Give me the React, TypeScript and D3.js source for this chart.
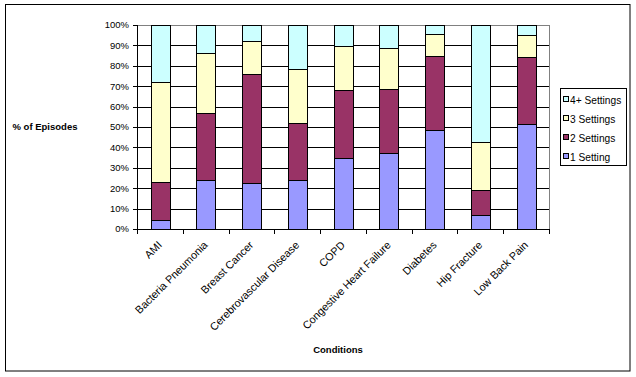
import React from "react";
import * as d3 from "d3";

const categories = [
  "AMI",
  "Bacteria Pneumonia",
  "Breast Cancer",
  "Cerebrovascular Disease",
  "COPD",
  "Congestive Heart Failure",
  "Diabetes",
  "Hip Fracture",
  "Low Back Pain",
];

const seriesNames = ["1 Setting", "2 Settings", "3 Settings", "4+ Settings"];
const seriesColors = ["#9999FF", "#993366", "#FFFFCC", "#CCFFFF"];

const oneSetting = [4.3, 23.9, 22.4, 23.9, 34.7, 37.3, 48.4, 6.7, 51.6];
const twoSettings = [18.6, 32.9, 53.5, 28.0, 33.4, 31.4, 36.4, 12.4, 32.7];
const threeSettings = [49.1, 29.5, 16.2, 26.7, 21.6, 20.2, 10.9, 23.6, 10.8];
const fourPlusSettings = [28.0, 13.7, 7.9, 21.4, 10.3, 11.1, 4.3, 57.3, 4.9];

const yTicks = [0, 10, 20, 30, 40, 50, 60, 70, 80, 90, 100];

const W = 636;
const H = 377;
const plot = { left: 137, right: 549, top: 25, bottom: 229 };
const FONT = "'Liberation Sans', Arial, sans-serif";
const FS = 9.5;

export default function App() {
  const seriesValues = [oneSetting, twoSettings, threeSettings, fourPlusSettings];
  const rows = categories.map((c, i) => {
    const r: any = { cat: c };
    seriesNames.forEach((s, k) => (r[s] = seriesValues[k][i]));
    return r;
  });
  const stacked = d3.stack<any>().keys(seriesNames).offset(d3.stackOffsetExpand)(rows);

  const x = d3.scaleBand<string>().domain(categories).range([plot.left, plot.right]).padding(0);
  const y = d3.scaleLinear().domain([0, 1]).range([plot.bottom, plot.top]);
  const barW = x.step() * 0.41;

  const boundaries = categories.map((c) => x(c)!).concat([plot.right]);

  return (
    <svg
      width={W}
      height={H}
      style={{ position: "fixed", left: 0, top: 0, background: "#fff" }}
      fontFamily={FONT}
    >
      <rect x={0} y={0} width={W} height={H} fill="#fff" />
      <rect x={5.5} y={4.5} width={624.5} height={366.5} fill="none" stroke="#000" strokeWidth={1} />

      {/* gridlines */}
      {yTicks.map((t) => (
        <line
          key={"g" + t}
          x1={plot.left}
          x2={plot.right}
          y1={Math.round(y(t / 100)) + 0.5}
          y2={Math.round(y(t / 100)) + 0.5}
          stroke={t === 100 ? "#808080" : "#000"}
          strokeWidth={1}
        />
      ))}
      <line
        x1={plot.right + 0.5}
        x2={plot.right + 0.5}
        y1={plot.top}
        y2={plot.bottom}
        stroke="#808080"
      />

      {/* bars */}
      {stacked.map((layer, k) =>
        layer.map((d, i) => {
          const cx = x(categories[i])! + x.step() / 2;
          const y0 = y(d[0]);
          const y1 = y(d[1]);
          return (
            <rect
              key={k + "-" + i}
              x={Math.round(cx - barW / 2) + 0.5}
              y={Math.round(y1) + 0.5}
              width={Math.round(barW)}
              height={Math.round(y0) - Math.round(y1)}
              fill={seriesColors[k]}
              stroke="#000"
              strokeWidth={1}
            />
          );
        })
      )}

      {/* axes */}
      <line x1={plot.left + 0.5} x2={plot.left + 0.5} y1={plot.top} y2={plot.bottom + 0.5} stroke="#000" />
      <line x1={plot.left} x2={plot.right + 1} y1={plot.bottom + 0.5} y2={plot.bottom + 0.5} stroke="#000" />
      {yTicks.map((t) => (
        <g key={"yt" + t}>
          <line
            x1={plot.left - 4}
            x2={plot.left}
            y1={Math.round(y(t / 100)) + 0.5}
            y2={Math.round(y(t / 100)) + 0.5}
            stroke="#000"
          />
          <text
            x={129}
            y={y(t / 100)}
            dy="0.35em"
            textAnchor="end"
            fontSize={FS}
            fill="#000"
          >
            {t + "%"}
          </text>
        </g>
      ))}
      {boundaries.map((b, i) => (
        <line
          key={"xt" + i}
          x1={Math.round(b) + 0.5}
          x2={Math.round(b) + 0.5}
          y1={plot.bottom}
          y2={plot.bottom + 5}
          stroke="#000"
        />
      ))}
      {categories.map((c) => {
        const cx = x(c)! + x.step() / 2;
        return (
          <text
            key={"xl" + c}
            transform={`translate(${cx},${plot.bottom + 14}) rotate(-45)`}
            textAnchor="end"
            dy="0.35em"
            fontSize={10.8}
            fill="#000"
          >
            {c}
          </text>
        );
      })}

      {/* axis titles */}
      <text x={45} y={127} dy="0.35em" textAnchor="middle" fontSize={FS} fontWeight="bold" fill="#000">
        % of Episodes
      </text>
      <text x={338} y={350} dy="0.35em" textAnchor="middle" fontSize={FS} fontWeight="bold" fill="#000">
        Conditions
      </text>

      {/* legend */}
      <rect x={560.5} y={88.5} width={66} height={77} fill="#fff" stroke="#000" />
      {[3, 2, 1, 0].map((k, j) => {
        const cy = 100 + j * 19;
        return (
          <g key={"lg" + k}>
            <rect x={563.5} y={cy - 3.5} width={5} height={5} fill={seriesColors[k]} stroke="#000" />
            <text x={570} y={cy} dy="0.35em" fontSize={10.2} fill="#000">
              {seriesNames[k]}
            </text>
          </g>
        );
      })}
    </svg>
  );
}
